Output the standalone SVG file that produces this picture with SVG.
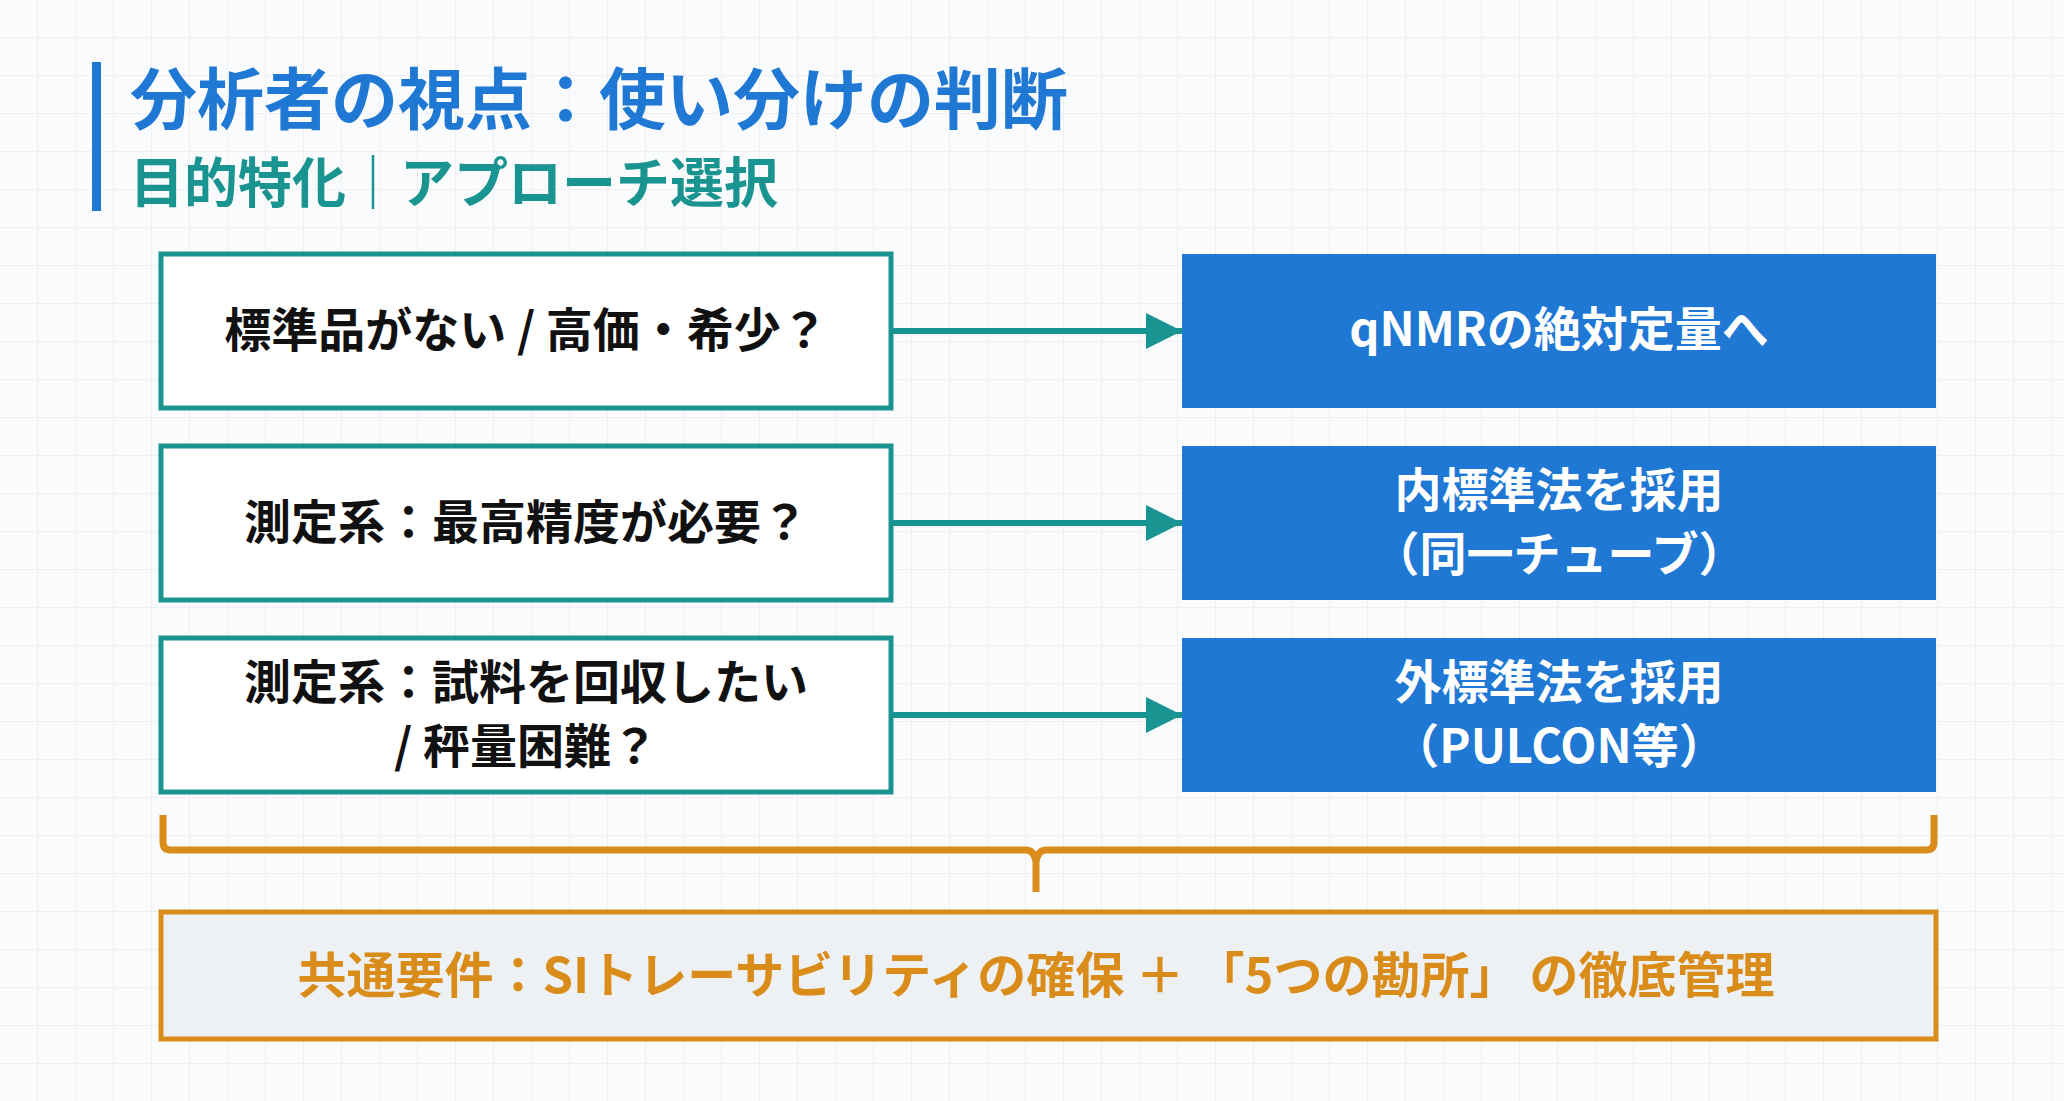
<svg xmlns="http://www.w3.org/2000/svg" width="2064" height="1101" viewBox="0 0 2064 1101">
<defs>
<pattern id="grid" width="38" height="38" patternUnits="userSpaceOnUse"><path d="M38 0V38H0" fill="none" stroke="#e9ecef" stroke-width="1.5"/></pattern>
<marker id="ah" viewBox="0 0 10 10" refX="10" refY="5" markerWidth="6" markerHeight="6" orient="auto" markerUnits="strokeWidth"><path d="M0 0L10 5L0 10z" fill="#1a9490"/></marker>
<style>
text{font-family:"Noto Sans CJK JP","Noto Sans",sans-serif;font-weight:bold;text-anchor:middle}
.q{fill:#fff;stroke:#1a9490;stroke-width:5}
.qt{font-size:47px;fill:#111}
.a{fill:#1f78d4}
.at{font-size:47px;fill:#fff}
.c{stroke:#1a9490;stroke-width:6;fill:none}
</style>
</defs>
<rect width="2064" height="1101" fill="#fafbfc"/>
<rect width="2064" height="1101" fill="url(#grid)"/>
<g id="header">
<rect x="92" y="62" width="9" height="149" fill="#1f78d4"/>
<text x="130" y="124" style="font-size:67px;fill:#1f78d4;text-anchor:start">分析者の視点：使い分けの判断</text>
<text x="130" y="203" style="font-size:54px;fill:#1a9490;text-anchor:start">目的特化｜アプローチ選択</text>
</g>
<g id="q1"><rect class="q" x="161" y="254" width="730" height="154"/><text class="qt" x="526" y="347">標準品がない / 高価・希少？</text></g>
<g id="q2"><rect class="q" x="161" y="446" width="730" height="154"/><text class="qt" x="526" y="539">測定系：最高精度が必要？</text></g>
<g id="q3"><rect class="q" x="161" y="638" width="730" height="154"/><text class="qt" x="526" y="699">測定系：試料を回収したい</text><text class="qt" x="526" y="763">/ 秤量困難？</text></g>
<g id="a1"><rect class="a" x="1182" y="254" width="754" height="154"/><text class="at" x="1559" y="346">qNMRの絶対定量へ</text></g>
<g id="a2"><rect class="a" x="1182" y="446" width="754" height="154"/><text class="at" x="1559" y="507">内標準法を採用</text><text class="at" x="1559" y="571">（同一チューブ）</text></g>
<g id="a3"><rect class="a" x="1182" y="638" width="754" height="154"/><text class="at" x="1559" y="699">外標準法を採用</text><text class="at" x="1559" y="763">（PULCON等）</text></g>
<g id="connectors">
<line class="c" x1="891" y1="331" x2="1182" y2="331" marker-end="url(#ah)"/>
<line class="c" x1="891" y1="523" x2="1182" y2="523" marker-end="url(#ah)"/>
<line class="c" x1="891" y1="715" x2="1182" y2="715" marker-end="url(#ah)"/>
<path d="M163 815V842Q163 850 171 850H1026Q1034 850 1036 862Q1038 850 1046 850H1926Q1934 850 1934 842V815M1036 858V892" fill="none" stroke="#d98c1a" stroke-width="7" stroke-linejoin="round"/>
</g>
<g id="common"><rect x="161" y="912" width="1775" height="127" fill="#eef1f4" stroke="#d98c1a" stroke-width="5"/><text x="1036" y="993" style="font-size:49px;fill:#d98c1a">共通要件：SIトレーサビリティの確保 ＋ 「5つの勘所」 の徹底管理</text></g>
</svg>
